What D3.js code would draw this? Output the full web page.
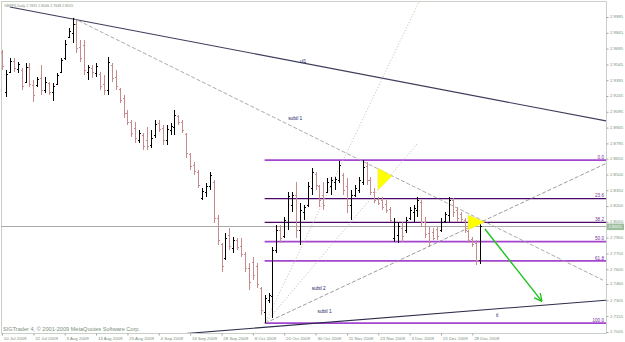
<!DOCTYPE html>
<html>
<head>
<meta charset="utf-8">
<script src="https://cdn.jsdelivr.net/npm/d3@7"></script>
<style>
body { margin: 0; background: #fff; }
</style>
</head>
<body>
<div class="chart"></div>
<script>
// chart window
var svgWidth = 625;
var svgHeight = 342;

// symbol line + copyright
var titleText = "GBPFX,Daily 2.7691 2.8046 2.7648 2.8015";
var copyText = "SIGTrader 4, \u00a9 2001-2009 MetaQuotes Software Corp.";

// date labels (every 8th bar)
var dateIdx = [0, 8, 16, 24, 32, 40, 48, 56, 64, 72, 80, 88, 96, 104, 112, 120];
var dateLabels = ["10 Jul 2009", "22 Jul 2009", "3 Aug 2009", "13 Aug 2009", "25 Aug 2009", "4 Sep 2009",
    "16 Sep 2009", "28 Sep 2009", "8 Oct 2009", "20 Oct 2009", "30 Oct 2009", "11 Nov 2009",
    "23 Nov 2009", "3 Dec 2009", "15 Dec 2009", "28 Dec 2009"];

// price scale labels
var priceLabels = ["2.9995", "2.9845", "2.9695", "2.9545", "2.9395", "2.9245", "2.9095", "2.8945",
    "2.8795", "2.8650", "2.8500", "2.8350", "2.8200", "2.8050", "2.7900", "2.7750", "2.7600",
    "2.7460", "2.7305", "2.7155", "2.7005"];

// daily OHLC bars
var opens = [2.9663, 2.9283, 2.9473, 2.9577, 2.9501, 2.9492, 2.9378, 2.9520, 2.9349, 2.9349,
    2.9416, 2.9302, 2.9368, 2.9283, 2.9359, 2.9473, 2.9606, 2.9805, 2.9843, 2.9929,
    2.9710, 2.9729, 2.9473, 2.9511, 2.9463, 2.9454, 2.9359, 2.9302, 2.9539, 2.9425,
    2.9311, 2.9226, 2.9083, 2.8998, 2.8941, 2.8827, 2.8874, 2.8827, 2.8779, 2.8874,
    2.8988, 2.8941, 2.8827, 2.8922, 2.8950, 2.9055, 2.8998, 2.8884, 2.8694, 2.8589,
    2.8523, 2.8276, 2.8333, 2.8390, 2.8428, 2.8087, 2.7839, 2.7706, 2.7925, 2.7801,
    2.7877, 2.7820, 2.7744, 2.7611, 2.7668, 2.7630, 2.7421, 2.7193, 2.7307, 2.7345,
    2.7782, 2.7973, 2.7915, 2.8049, 2.8210, 2.8305, 2.7973, 2.8143, 2.8210, 2.8371,
    2.8504, 2.8390, 2.8305, 2.8333, 2.8390, 2.8428, 2.8447, 2.8495, 2.8390, 2.8210,
    2.8305, 2.8352, 2.8428, 2.8580, 2.8447, 2.8333, 2.8267, 2.8257, 2.8219, 2.8172,
    2.7896, 2.7925, 2.7992, 2.7973, 2.8087, 2.8143, 2.8162, 2.8238, 2.8049, 2.7944,
    2.7954, 2.7982, 2.7973, 2.8058, 2.8115, 2.8257, 2.8162, 2.8124, 2.8068, 2.7963,
    2.7887, 2.7849, 2.7691];
var highs = [2.9682, 2.9492, 2.9606, 2.9606, 2.9568, 2.9511, 2.9558, 2.9558, 2.9397, 2.9425,
    2.9539, 2.9425, 2.9378, 2.9368, 2.9463, 2.9606, 2.9777, 2.9891, 2.9986, 2.9967,
    2.9777, 2.9777, 2.9539, 2.9539, 2.9558, 2.9473, 2.9444, 2.9615, 2.9558, 2.9492,
    2.9321, 2.9254, 2.9112, 2.9017, 2.8998, 2.8922, 2.8893, 2.8950, 2.8922, 2.9017,
    2.9017, 2.8969, 2.8969, 2.8988, 2.9112, 2.9064, 2.9017, 2.8893, 2.8703, 2.8618,
    2.8542, 2.8371, 2.8419, 2.8523, 2.8447, 2.8115, 2.7849, 2.7944, 2.7992, 2.7906,
    2.7896, 2.7896, 2.7763, 2.7659, 2.7716, 2.7659, 2.7430, 2.7354, 2.7373, 2.7811,
    2.8020, 2.8020, 2.8096, 2.8333, 2.8333, 2.8428, 2.8229, 2.8210, 2.8428, 2.8561,
    2.8523, 2.8400, 2.8428, 2.8466, 2.8476, 2.8476, 2.8627, 2.8514, 2.8466, 2.8352,
    2.8400, 2.8476, 2.8637, 2.8618, 2.8476, 2.8371, 2.8286, 2.8286, 2.8257, 2.8191,
    2.8087, 2.8049, 2.8049, 2.8096, 2.8191, 2.8210, 2.8286, 2.8257, 2.8096, 2.8001,
    2.7992, 2.8001, 2.8087, 2.8143, 2.8286, 2.8276, 2.8191, 2.8143, 2.8087, 2.7973,
    2.7906, 2.7877, 2.8046];
var lows = [2.9492, 2.9235, 2.9463, 2.9473, 2.9463, 2.9302, 2.9368, 2.9330, 2.9188, 2.9330,
    2.9254, 2.9273, 2.9254, 2.9197, 2.9349, 2.9463, 2.9587, 2.9796, 2.9748, 2.9653,
    2.9568, 2.9444, 2.9397, 2.9416, 2.9425, 2.9302, 2.9254, 2.9254, 2.9378, 2.9302,
    2.9178, 2.9036, 2.8969, 2.8855, 2.8798, 2.8798, 2.8732, 2.8732, 2.8751, 2.8846,
    2.8903, 2.8779, 2.8779, 2.8874, 2.8874, 2.8969, 2.8893, 2.8656, 2.8542, 2.8495,
    2.8371, 2.8257, 2.8286, 2.8352, 2.8039, 2.7830, 2.7573, 2.7687, 2.7782, 2.7754,
    2.7782, 2.7716, 2.7573, 2.7402, 2.7497, 2.7421, 2.7164, 2.7088, 2.7278, 2.7136,
    2.7754, 2.7849, 2.7896, 2.7973, 2.8143, 2.7896, 2.7830, 2.8068, 2.8191, 2.8305,
    2.8352, 2.8191, 2.8162, 2.8324, 2.8305, 2.8352, 2.8419, 2.8305, 2.8134, 2.8068,
    2.8286, 2.8324, 2.8400, 2.8400, 2.8305, 2.8229, 2.8210, 2.8162, 2.8134, 2.8049,
    2.7858, 2.7849, 2.7858, 2.7944, 2.8068, 2.8049, 2.8096, 2.8001, 2.7896, 2.7811,
    2.7877, 2.7877, 2.7954, 2.8039, 2.8049, 2.8096, 2.8049, 2.8049, 2.7944, 2.7849,
    2.7811, 2.7640, 2.7648];
var closes = [2.9530, 2.9454, 2.9577, 2.9511, 2.9549, 2.9340, 2.9520, 2.9359, 2.9254, 2.9406,
    2.9302, 2.9378, 2.9283, 2.9340, 2.9444, 2.9587, 2.9739, 2.9862, 2.9929, 2.9701,
    2.9606, 2.9492, 2.9520, 2.9473, 2.9530, 2.9340, 2.9302, 2.9568, 2.9416, 2.9340,
    2.9207, 2.9083, 2.8998, 2.8893, 2.8846, 2.8893, 2.8770, 2.8770, 2.8846, 2.8979,
    2.8931, 2.8827, 2.8931, 2.8960, 2.9064, 2.8998, 2.8922, 2.8703, 2.8580, 2.8532,
    2.8400, 2.8343, 2.8390, 2.8495, 2.8087, 2.7877, 2.7630, 2.7896, 2.7820, 2.7877,
    2.7811, 2.7744, 2.7611, 2.7478, 2.7544, 2.7458, 2.7212, 2.7326, 2.7354, 2.7782,
    2.7973, 2.7896, 2.8068, 2.8295, 2.8305, 2.7973, 2.8162, 2.8191, 2.8390, 2.8523,
    2.8400, 2.8257, 2.8210, 2.8428, 2.8447, 2.8457, 2.8589, 2.8352, 2.8210, 2.8305,
    2.8371, 2.8447, 2.8570, 2.8447, 2.8333, 2.8257, 2.8229, 2.8191, 2.8162, 2.8068,
    2.8049, 2.8011, 2.7915, 2.8068, 2.8162, 2.8181, 2.8257, 2.8049, 2.7934, 2.7858,
    2.7896, 2.7915, 2.8049, 2.8124, 2.8257, 2.8143, 2.8087, 2.8077, 2.7973, 2.7877,
    2.7839, 2.7687, 2.8015];

var lastPrice = 2.8015;

// fibonacci retracement: swing low bar 67 -> swing high bar 92
var fibStart = 67;
var fibHigh = 2.8637;
var fibLow = 2.7088;
var fibLevels = [0, 23.6, 38.2, 50, 61.8, 100];
var fibLabels = ["0.0", "23.6", "38.2", "50.0", "61.8", "100.0"];

// trendlines: [barIndex, price] end points
var ul1Pts = [[2.0, 3.0090], [154.3, 2.9007]];
var subtlTopPts = [[18.1, 2.9986], [153.3, 2.7497]];
var subtl2Pts = [[67.1, 2.7088], [154.3, 2.8608]];
var tlPts = [[44.9, 2.6984], [154.3, 2.7307]];
var fanSteepPts = [[67.1, 2.7088], [106.6, 3.0157]];
var fanMidPts = [[67.1, 2.7088], [105.9, 2.8789]];
var arrowPts = [[123.2, 2.7982], [137.5, 2.7307]];

// yellow triangles
var tri1 = [[95.9, 2.8561], [95.9, 2.8352], [99.5, 2.8485]];
var tri2 = [[118.9, 2.8115], [118.9, 2.7973], [123.2, 2.8049]];

// line labels: [text, barIndex, price]
var lineLabels = [["ul1", 76, 2.9559], ["subtl 1", 73, 2.9017], ["subtl 2", 79, 2.7402],
    ["subtl 1", 80.5, 2.7183], ["tl", 126, 2.7145]];

// layout
var plot = {left: 1, top: 1, right: 606, bottom: 333};
var upColor = "#000000";
var downColor = "#c48c8c";
var textColor = "#7a8f7a";

var svg = d3.select(".chart").append("svg")
    .attr("width", svgWidth)
    .attr("height", svgHeight)
    .style("font-family", "'Liberation Sans', Arial, sans-serif");

var xScale = d3.scaleLinear().domain([0, 122]).range([2, 480.2]);
var yScale = d3.scaleLinear().domain([2.6995, 2.9995]).range([333, 17]);

svg.append("clipPath").attr("id", "plotclip")
    .append("rect")
    .attr("x", plot.left).attr("y", plot.top)
    .attr("width", plot.right - plot.left).attr("height", plot.bottom - plot.top);

// frame
svg.append("rect")
    .attr("x", plot.left + 0.5).attr("y", plot.top + 0.5)
    .attr("width", plot.right - plot.left).attr("height", plot.bottom - plot.top)
    .attr("fill", "none").attr("stroke", "#c8d0c8");

var chartGroup = svg.append("g").attr("clip-path", "url(#plotclip)");

// fib levels
function fibPrice(lv) { return fibHigh - (fibHigh - fibLow) * lv / 100; }
function fibColor(lv) { return (lv === 23.6 || lv === 38.2) ? "#4a0868" : "#a445d0"; }

chartGroup.selectAll(".fib").data(fibLevels).enter().append("line")
    .attr("x1", xScale(fibStart)).attr("x2", plot.right)
    .attr("y1", d => yScale(fibPrice(d))).attr("y2", d => yScale(fibPrice(d)))
    .attr("stroke", fibColor)
    .attr("stroke-width", d => (d === 23.6 || d === 38.2) ? 1.3 : 1.8);

chartGroup.selectAll(".fibtext").data(fibLevels).enter().append("text")
    .attr("x", plot.right - 2)
    .attr("y", d => yScale(fibPrice(d)) - 1.3)
    .attr("text-anchor", "end")
    .attr("font-size", "4.6px")
    .attr("fill", "#7030a0")
    .text((d, i) => fibLabels[i]);

// current price line
chartGroup.append("line")
    .attr("x1", plot.left).attr("x2", plot.right)
    .attr("y1", Math.round(yScale(lastPrice)) + 0.5).attr("y2", Math.round(yScale(lastPrice)) + 0.5)
    .attr("stroke", "#a8a8a8");

// trendlines
function drawLine(pts, color, width, dash) {
    chartGroup.append("line")
        .attr("x1", xScale(pts[0][0])).attr("y1", yScale(pts[0][1]))
        .attr("x2", xScale(pts[1][0])).attr("y2", yScale(pts[1][1]))
        .attr("stroke", color).attr("stroke-width", width)
        .attr("stroke-dasharray", dash);
}
drawLine(ul1Pts, "#3c3c5c", 1.1, null);
drawLine(subtlTopPts, "#a0a0a0", 0.9, "4,2");
drawLine(subtl2Pts, "#909090", 0.9, "4,2");
drawLine(tlPts, "#2c2c4c", 1.1, null);
drawLine(fanSteepPts, "#c8b090", 0.9, "1,2");
drawLine(fanMidPts, "#b0b0b0", 0.9, "1,2");

// OHLC bars
var barsGroup = chartGroup.selectAll(".bar")
    .data(d3.range(highs.length))
    .enter()
    .append("g")
    .attr("stroke", i => closes[i] >= opens[i] ? upColor : downColor)
    .attr("shape-rendering", "crispEdges");

barsGroup.append("line")
    .attr("x1", i => Math.round(xScale(i)) + 0.5).attr("x2", i => Math.round(xScale(i)) + 0.5)
    .attr("y1", i => yScale(highs[i])).attr("y2", i => yScale(lows[i]));
barsGroup.append("line")
    .attr("x1", i => Math.round(xScale(i)) - 1).attr("x2", i => Math.round(xScale(i)))
    .attr("y1", i => Math.round(yScale(opens[i])) + 0.5).attr("y2", i => Math.round(yScale(opens[i])) + 0.5);
barsGroup.append("line")
    .attr("x1", i => Math.round(xScale(i)) + 1).attr("x2", i => Math.round(xScale(i)) + 2)
    .attr("y1", i => Math.round(yScale(closes[i])) + 0.5).attr("y2", i => Math.round(yScale(closes[i])) + 0.5);

// triangles
[tri1, tri2].forEach(function(t) {
    chartGroup.append("polygon")
        .attr("points", t.map(p => xScale(p[0]) + "," + yScale(p[1])).join(" "))
        .attr("fill", "#ffff00")
        .attr("stroke", "#e8e070")
        .attr("stroke-width", 0.5);
});

// green arrow
svg.append("defs").append("marker")
    .attr("id", "arrowhead")
    .attr("viewBox", "0 0 10 10")
    .attr("refX", 8).attr("refY", 5)
    .attr("markerWidth", 6).attr("markerHeight", 6)
    .attr("orient", "auto")
    .append("path").attr("d", "M0,0 L10,5 L0,10").attr("fill", "none").attr("stroke", "#1fc21f").attr("stroke-width", 1.6);

chartGroup.append("line")
    .attr("x1", xScale(arrowPts[0][0])).attr("y1", yScale(arrowPts[0][1]))
    .attr("x2", xScale(arrowPts[1][0])).attr("y2", yScale(arrowPts[1][1]))
    .attr("stroke", "#1fc21f").attr("stroke-width", 1.4)
    .attr("marker-end", "url(#arrowhead)");

// line labels
chartGroup.selectAll(".lbl").data(lineLabels).enter().append("text")
    .attr("x", d => xScale(d[1])).attr("y", d => yScale(d[2]))
    .attr("font-size", "4.8px")
    .attr("fill", "#20206a")
    .text(d => d[0]);

// title and copyright
svg.append("text").attr("x", 4).attr("y", 7)
    .attr("font-size", "3.6px").attr("fill", textColor).text(titleText);
svg.append("text").attr("x", 3).attr("y", 330.5)
    .attr("font-size", "5.6px").attr("fill", textColor).text(copyText);

// right price axis
var priceTicks = priceLabels.map(Number);
var rightAxis = d3.axisRight(yScale)
    .tickValues(priceTicks)
    .tickFormat((d, i) => priceLabels[i])
    .tickSize(2)
    .tickPadding(1.5);

var yAxisG = svg.append("g")
    .attr("transform", `translate(${plot.right + 0.5}, 0)`)
    .call(rightAxis);
yAxisG.select(".domain").remove();
yAxisG.selectAll("line").attr("stroke", "#9aaa9a");
yAxisG.selectAll("text").attr("font-size", "4.3px").attr("fill", textColor)
    .attr("font-family", "'Liberation Sans', Arial, sans-serif")
    .attr("dy", "0.2em");

// bottom date axis
var bottomAxis = d3.axisBottom(xScale)
    .tickValues(dateIdx)
    .tickFormat((d, i) => dateLabels[i])
    .tickSize(2)
    .tickPadding(1.5);

var xAxisG = svg.append("g")
    .attr("transform", `translate(0, ${plot.bottom + 0.5})`)
    .call(bottomAxis);
xAxisG.select(".domain").remove();
xAxisG.selectAll("line").attr("stroke", "#9aaa9a");
xAxisG.selectAll("text").attr("font-size", "4.4px").attr("fill", textColor)
    .attr("text-anchor", "start").attr("dx", "0.3em")
    .attr("font-family", "'Liberation Sans', Arial, sans-serif");

// last price box
svg.append("rect")
    .attr("x", plot.right + 1).attr("y", yScale(lastPrice) - 2)
    .attr("width", 17).attr("height", 6.5)
    .attr("fill", "#9dbd9d");
svg.append("text")
    .attr("x", plot.right + 2.5).attr("y", yScale(lastPrice) + 2.9)
    .attr("font-size", "4.3px").attr("fill", "#ffffff")
    .text(lastPrice.toFixed(4));
</script>
</body>
</html>
